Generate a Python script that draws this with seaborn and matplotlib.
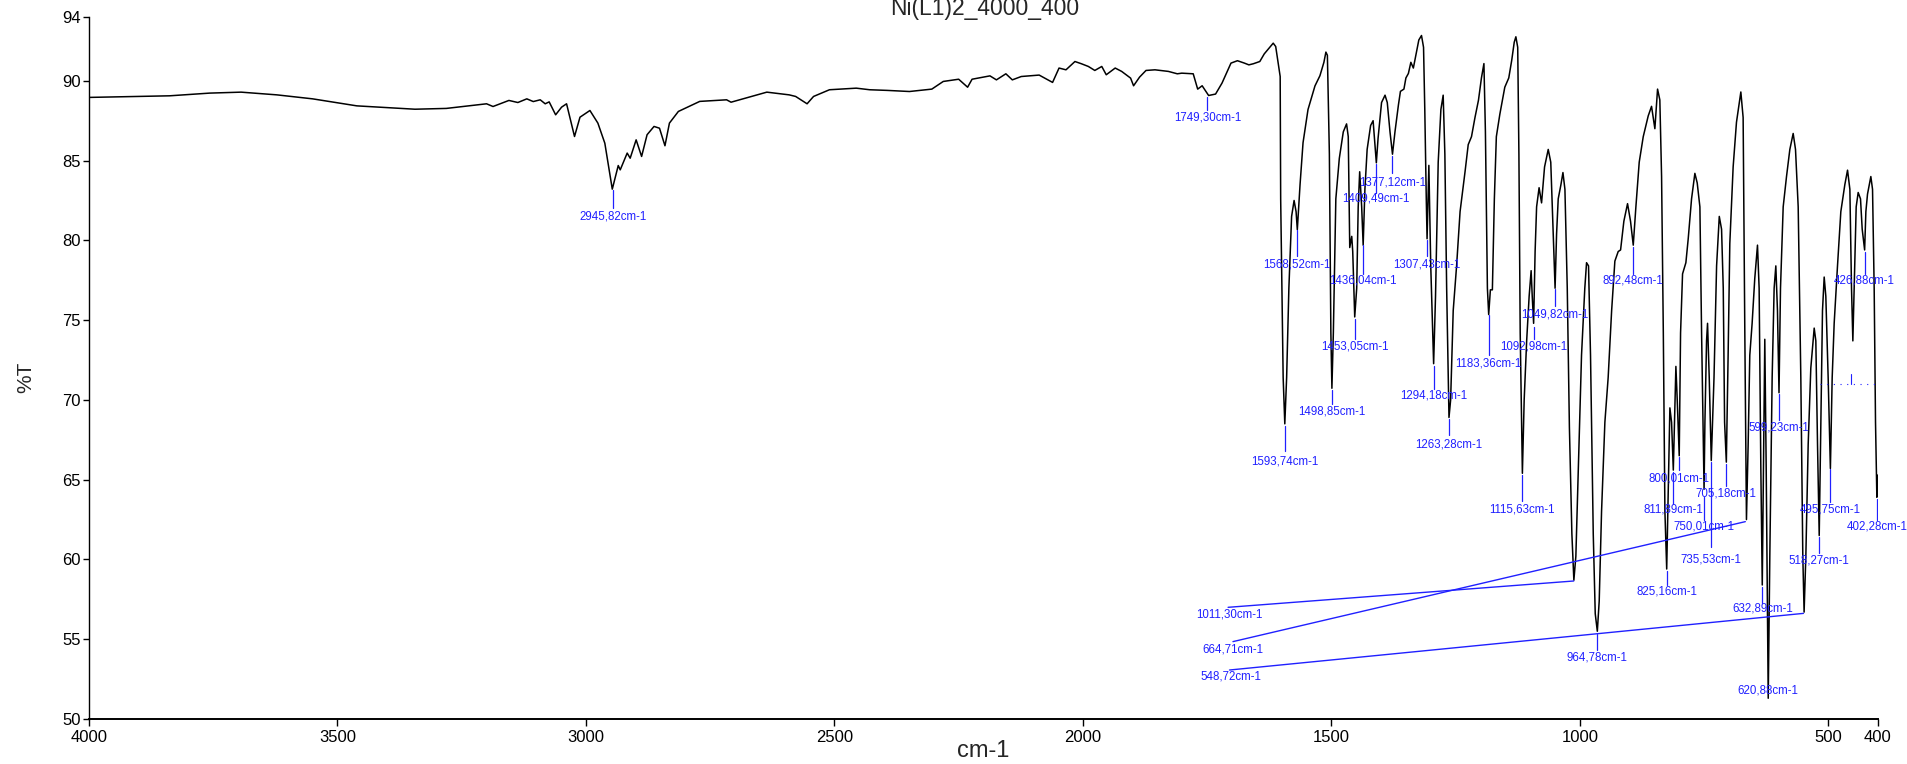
import matplotlib
matplotlib.use("Agg")
import matplotlib.pyplot as plt
import seaborn as sns
import pandas as pd

# spectrum (wavenumber cm-1, %T)
wavenumber = [
    4000, 3838, 3757, 3694, 3622, 3550, 3461, 3344, 3281, 3200, 3187, 3155, 3137, 3119,
    3106, 3092, 3082, 3074, 3061, 3049, 3039, 3023, 3012, 2992, 2976, 2962, 2947, 2935,
    2931, 2917, 2911, 2899, 2888, 2877, 2863, 2852, 2841, 2832, 2814, 2771,
    2717, 2708, 2636, 2591, 2578, 2555, 2542, 2510, 2456, 2429, 2394, 2349, 2304, 2281,
    2250, 2232, 2223, 2187, 2174, 2155, 2142, 2124, 2088, 2061, 2048, 2034, 2016, 2003,
    1989, 1976, 1962, 1953, 1935, 1922, 1904, 1898, 1886, 1873, 1855, 1828, 1810, 1801,
    1778, 1769, 1760, 1747, 1733, 1720, 1702, 1689, 1675, 1666, 1657, 1644, 1635, 1617,
    1612, 1603,
    1602, 1597, 1593.7, 1590, 1585.5, 1580, 1575, 1571, 1568.5, 1563, 1557, 1547, 1533,
    1523, 1515, 1511, 1508, 1504, 1501, 1498.9, 1496, 1491, 1484, 1476, 1469.4, 1466,
    1463, 1459, 1457, 1453, 1449, 1446, 1443, 1439, 1436, 1432.5, 1428, 1421, 1416,
    1409.5, 1406, 1399, 1392, 1387.5, 1382, 1377, 1372, 1365, 1361, 1354, 1350, 1345,
    1340, 1335, 1331, 1324, 1318.6, 1314.5, 1312, 1309, 1307.4, 1303.8, 1300, 1294.2,
    1290.4, 1285, 1279.6, 1275, 1271.6, 1268, 1263.3, 1260, 1254.8, 1248, 1241, 1231,
    1224.6, 1218, 1211, 1204, 1198, 1193, 1190, 1186, 1183.4, 1180, 1176, 1172, 1168,
    1161, 1151, 1143, 1137, 1132, 1128.7, 1125, 1122.6, 1120, 1115.6, 1112, 1107, 1102,
    1098, 1095.8, 1093, 1090, 1087, 1082, 1077, 1071, 1063.6, 1058.5, 1053, 1049.8,
    1046.8, 1043.5, 1038, 1034, 1030, 1025.3, 1021,
    1016, 1012, 1008, 1003, 996.6, 990, 986.5, 982.5, 978.5, 973, 969, 964.8, 961, 956.3,
    949.6, 943, 936, 929.5, 922.8, 918, 911.4, 904, 898, 892.5, 887.2, 880.5, 872.4,
    862.4, 855.7, 849, 843.6, 839, 835.5, 832, 828.8, 825.2, 822, 818.8, 815.4, 811.9,
    809.4, 806.7, 804, 800, 797.3, 793.3, 786.6, 781.9, 775.2, 768.5, 763.8, 758.4, 755,
    750, 748.3, 745, 743, 739.6, 735.5, 730, 724.8, 719.4, 714.8, 711.4, 708.7,
    705.2, 701.6, 698.2, 691.5, 684.8, 676, 671.4, 668, 664.7, 661.3, 658, 653.3, 648,
    642.5, 639.2, 635.8, 632.9, 630.4, 627.8, 625, 620.9, 617.7, 613, 609, 605.6, 602.3,
    599.2, 596.2, 590.8, 584.1, 577.4, 570.7, 566, 560.6, 555.3, 551.3, 548.7, 545.2,
    540.5, 535.2, 528.4, 525.1, 521.7, 518.3, 515, 511.7, 508.3, 505, 500.3, 495.8,
    492.2, 488.2, 481.5, 474.8, 466.7, 461.3, 456.6, 453.3, 450.6, 447.9, 443.9, 439.9,
    435.2, 431.8, 426.9, 424.4, 421.1, 414.4, 411, 407.7, 405, 402.3, 401, 400,
]
transmittance = [
    88.96, 89.06, 89.23, 89.29, 89.12, 88.87, 88.43, 88.22, 88.27, 88.56, 88.39, 88.77, 88.64, 88.87,
    88.70, 88.81, 88.56, 88.68, 87.87, 88.35, 88.56, 86.51, 87.72, 88.14, 87.35, 86.09, 83.21, 84.69,
    84.42, 85.47, 85.15, 86.30, 85.26, 86.62, 87.14, 87.03, 85.93, 87.35, 88.08, 88.71,
    88.81, 88.66, 89.29, 89.12, 89.02, 88.56, 89.02, 89.44, 89.54, 89.44, 89.40, 89.33, 89.48, 89.96,
    90.10, 89.60, 90.10, 90.31, 90.06, 90.44, 90.06, 90.27, 90.36, 89.90, 90.80, 90.69, 91.21, 91.07,
    90.90, 90.65, 90.90, 90.38, 90.80, 90.59, 90.17, 89.69, 90.23, 90.65, 90.69, 90.59, 90.44, 90.48,
    90.44, 89.48, 89.69, 89.08, 89.17, 89.86, 91.11, 91.26, 91.11, 91.00, 91.07, 91.21, 91.69, 92.36,
    92.15, 90.27,
    82.6, 71.4, 68.5, 71.4, 77.0, 81.5, 82.5, 81.8, 80.67, 83.5, 86.12, 88.2, 89.68,
    90.32, 91.16, 91.8, 91.6, 85.42, 74.2, 70.73, 74.2, 82.6, 85.14, 86.8, 87.3, 86.5,
    79.55, 80.25, 79.3, 75.2, 77.0, 82.1, 84.3, 82.1, 79.7, 83.2, 85.7, 87.2, 87.5,
    84.86, 86.4, 88.64, 89.1, 88.64, 86.8, 85.4, 86.8, 88.5, 89.34, 89.48, 90.18, 90.46,
    91.16, 90.8, 91.44, 92.56, 92.84, 92.1, 88.2, 82.6, 80.1, 84.7, 78.4, 72.27,
    76.5, 84.9, 88.2, 89.1, 85.4, 77.0, 68.9, 70.0, 75.6, 78.4, 81.8, 84.3,
    86.0, 86.5, 87.7, 88.78, 90.18, 91.08, 86.8, 77.0, 75.35, 76.9, 76.9, 82.6, 86.5,
    87.9, 89.6, 90.18, 91.3, 92.42, 92.76, 92.1, 85.4, 74.2, 65.4, 70.0, 73.7, 76.5,
    78.1, 76.5, 74.8, 79.3, 82.1, 83.3, 82.35, 84.6, 85.7, 84.9, 79.8, 77.0,
    80.4, 82.6, 83.5, 84.25, 83.2, 77.0, 68.3,
    61.6, 58.7, 60.2, 65.8, 72.8, 77.0, 78.6, 78.4, 72.8, 61.6, 56.6, 55.5, 57.4, 63.0,
    68.6, 71.4, 75.6, 78.7, 79.3, 79.4, 81.2, 82.3, 81.2, 79.7, 82.1, 84.9, 86.5,
    87.8, 88.4, 87.0, 89.48, 88.8, 84.0, 74.2, 63.0, 59.4, 64.4, 69.5, 68.6, 65.6,
    68.6, 72.1, 70.0, 66.5, 74.2, 77.9, 78.6, 80.1, 82.6, 84.2, 83.6, 82.1, 74.2,
    64.4, 68.6, 73.7, 74.8, 71.4, 66.2, 71.4, 78.4, 81.5, 80.7, 77.0, 68.6,
    66.1, 72.8, 79.8, 84.6, 87.4, 89.3, 87.7, 74.2, 62.5, 67.2, 72.8, 74.8, 77.6,
    79.7, 77.0, 65.8, 58.4, 65.8, 73.8, 65.8, 51.3, 60.2, 71.4, 77.0, 78.4, 75.6,
    70.45, 77.0, 82.1, 84.0, 85.7, 86.7, 85.7, 82.1, 71.4, 60.2, 56.7, 60.2,
    67.2, 72.0, 74.5, 73.7, 67.2, 61.5, 68.6, 75.6, 77.7, 76.5, 71.4, 65.7,
    71.4, 74.8, 78.4, 81.8, 83.5, 84.4, 83.2, 77.0, 73.7, 77.0, 82.1, 83.0,
    82.6, 80.7, 79.4, 81.8, 82.9, 84.0, 83.2, 77.0, 68.6, 63.9, 65.0, 65.3,
]

# labelled peaks
peak_wn = [2945.82, 1749.30, 1593.74, 1568.52, 1498.85, 1453.05, 1436.04, 1409.49,
           1377.12, 1307.43, 1294.18, 1263.28, 1183.36, 1115.63, 1092.98, 1049.82,
           964.78, 892.48, 825.16, 811.89, 800.01, 750.01, 735.53, 705.18, 632.89,
           620.88, 599.23, 518.27, 495.75, 426.88, 402.28]
# tick top, tick bottom, text centre (in %T)
peak_pos = [(83.15, 82.0, 81.5), (89.0, 88.2, 87.7), (68.35, 66.8, 66.17), (80.67, 79.0, 78.5),
            (70.65, 69.75, 69.25), (75.1, 73.8, 73.33), (79.7, 77.9, 77.5), (84.8, 83.0, 82.6),
            (85.3, 84.2, 83.6), (80.0, 79.0, 78.5), (72.1, 70.7, 70.25), (68.8, 67.8, 67.2),
            (75.3, 72.8, 72.3), (65.3, 63.65, 63.1), (74.56, 73.8, 73.33), (76.95, 75.9, 75.35),
            (55.3, 54.35, 53.85), (79.6, 77.9, 77.5), (59.25, 58.4, 58.0), (65.5, 63.5, 63.1),
            (66.45, 65.6, 65.1), (63.9, 62.5, 62.05), (66.1, 60.8, 60.0), (66.0, 64.6, 64.15),
            (58.3, 57.3, 56.9), (None, None, 51.78), (70.4, 68.77, 68.27), (61.4, 60.4, 59.95),
            (65.7, 63.6, 63.1), (79.3, 77.9, 77.5), (63.8, 62.5, 62.05)]

# peaks with long leader lines: label, text (x, y), line start, line end
leader_wn = [1011.30, 664.71, 548.72]
leader_pos = [((1705, 56.52), (1707.8, 57.0), (1012.3, 58.65)),
              ((1698, 54.33), (1698, 54.85), (667, 62.37)),
              ((1702, 52.65), (1705, 53.07), (550, 56.62))]

x_ticks = [4000, 3500, 3000, 2500, 2000, 1500, 1000, 500, 400]
y_ticks = [50, 55, 60, 65, 70, 75, 80, 85, 90, 94]

sns.set_style("ticks")
plt.rcParams['font.family'] = ['Liberation Sans', 'DejaVu Sans']

df = pd.DataFrame({'wn': wavenumber, 'T': transmittance})

fig = plt.figure(figsize=(19.08, 7.64), dpi=100)
ax = fig.add_axes([89 / 1908, 1 - 719 / 764, (1878 - 89) / 1908, (719 - 17) / 764])
sns.lineplot(data=df, x='wn', y='T', color='black', linewidth=1.1,
             estimator=None, sort=False, ax=ax)

blue = '#2020ff'
fmt = lambda w: f"{w:.2f}".replace('.', ',') + "cm-1"
for w, (t0, t1, ty) in zip(peak_wn, peak_pos):
    if t0 is not None:
        ax.plot([w, w], [t0, t1], color=blue, lw=0.9)
    ax.text(w, ty, fmt(w), color=blue, fontsize=8.3, ha='center', va='center')

for w, (txt, p0, p1) in zip(leader_wn, leader_pos):
    ax.plot([p0[0], p1[0]], [p0[1], p1[1]], color=blue, lw=1.0)
    ax.text(txt[0], txt[1], fmt(w), color=blue, fontsize=8.3, ha='center', va='center')

# dotted marker line near 71 %T
ax.plot([517, 396], [71.0, 71.0], color=blue, lw=0.8, linestyle=(0, (1, 5)))
ax.plot([455, 455], [71.0, 71.65], color=blue, lw=0.8)

ax.set_xlim(4000, 400)
ax.set_ylim(50, 94)
ax.set_xticks(x_ticks)
ax.set_yticks(y_ticks)
ax.set_xlabel('')
ax.set_ylabel('')
ax.tick_params(axis='both', labelsize=12, length=4, width=1, pad=2, colors='black')
ax.tick_params(axis='x', length=5, pad=3)
sns.despine(ax=ax)
ax.spines['left'].set_linewidth(1.0)
ax.spines['bottom'].set_linewidth(1.4)
ax.spines['left'].set_color('black')
ax.spines['bottom'].set_color('black')

fig.text(985 / 1908, 1 - 15 / 764, 'Ni(L1)2_4000_400', ha='center', va='baseline', fontsize=16.5)
fig.text(983 / 1908, 1 - 751 / 764, 'cm-1', ha='center', va='center', fontsize=17)
fig.text(26 / 1908, 1 - 377 / 764, '%T', ha='center', va='center', rotation=90, fontsize=15)

fig.savefig('out.png', dpi=100)
